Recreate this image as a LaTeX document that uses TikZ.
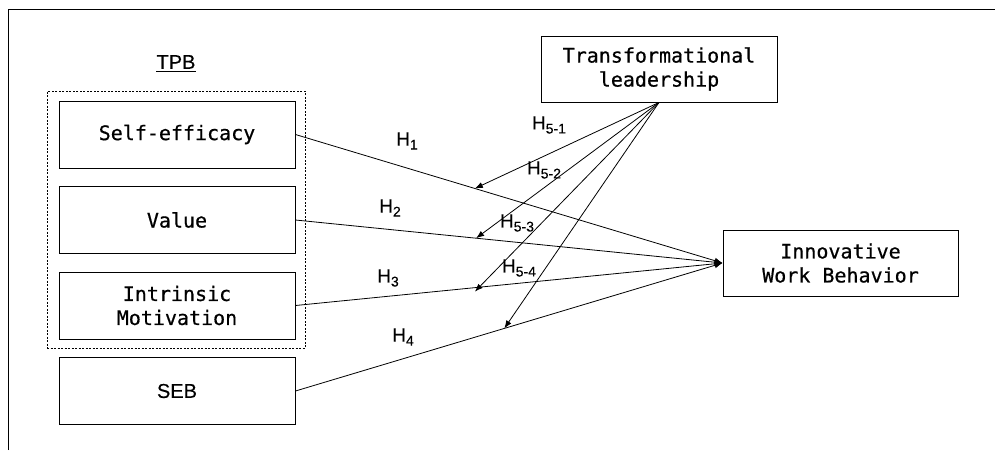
\documentclass[tikz,border=0pt]{standalone}
\usepackage{fontspec}
\setmainfont{Liberation Sans}
\newfontfamily\boxfont[FakeBold=0.6]{DejaVu Sans Mono}
\newfontfamily\labfont[FakeBold=0.3]{Liberation Sans}
\usetikzlibrary{arrows.meta}
\tikzset{
  varbox/.style={draw, line width=0.9pt, minimum width=236pt, minimum height=67pt, inner sep=0pt, align=center, font=\boxfont\fontsize{20}{24}\selectfont},
  conn/.style={line width=0.8pt},
  arr/.style={line width=0.8pt, -{Latex[length=8pt,width=6pt]}},
  hlab/.style={font=\labfont\fontsize{19}{19}\selectfont, inner sep=0pt},
}
\newcommand{\hsub}[1]{H\raisebox{-4pt}{\fontsize{14}{14}\selectfont #1}}
\begin{document}
\begin{tikzpicture}[x=1pt,y=-1pt]
\useasboundingbox (0,0) rectangle (995,450);
% frame
\coordinate (fa) at (8,450);
\coordinate (fb) at (8,9);
\coordinate (fc) at (995,9);
\draw[line width=0.9pt] (fa) -- (fb) -- (fc);
% TPB
\node[font=\labfont\fontsize{20}{20}\selectfont, inner sep=0pt] (tpb) at (176,62) {TPB};
\draw[line width=0.8pt] ([yshift=-2pt]tpb.south west) -- ([yshift=-2pt]tpb.south east);
\node[draw, dashed, dash pattern=on 2pt off 1.5pt, line width=0.7pt, minimum width=258pt, minimum height=257pt, inner sep=0pt] (grp) at (176,219.5) {};
% boxes
\node[varbox] (se) at (177,134.5) {Self-efficacy};
\node[varbox] (va) at (177,220) {Value};
\node[varbox] (im) at (177,305.5) {Intrinsic\\Motivation};
\node[varbox, font=\labfont\fontsize{20}{24}\selectfont] (seb) at (177,391) {SEB};
\node[varbox, minimum height=66pt] (tl) at (659,69) {Transformational\\leadership};
\node[varbox, minimum width=235pt, minimum height=66pt] (iwb) at (840.5,263) {Innovative\\Work Behavior};
% main paths
\draw[arr] (se.east) -- coordinate[pos=0.42] (p1) (iwb.west);
\draw[arr] (va.east) -- coordinate[pos=0.423] (p2) (iwb.west);
\draw[arr] (im.east) -- coordinate[pos=0.42] (p3) (iwb.west);
\draw[arr] (seb.east) -- coordinate[pos=0.489] (p4) (iwb.west);
% moderation
\draw[arr] (tl.south) -- (p1);
\draw[arr] (tl.south) -- (p2);
\draw[arr] (tl.south) -- ([yshift=-4pt]p3);
\draw[arr] (tl.south) -- (p4);
% labels
\node[hlab] (h1) at (407,141) {\hsub{1}};
\node[hlab] (h2) at (390,208) {\hsub{2}};
\node[hlab] (h3) at (388,278) {\hsub{3}};
\node[hlab] (h4) at (403,337) {\hsub{4}};
\node[hlab] (h51) at (549,125) {\hsub{5-1}};
\node[hlab] (h52) at (544,170) {\hsub{5-2}};
\node[hlab] (h53) at (517,223) {\hsub{5-3}};
\node[hlab] (h54) at (519,268) {\hsub{5-4}};
\end{tikzpicture}
\end{document}
